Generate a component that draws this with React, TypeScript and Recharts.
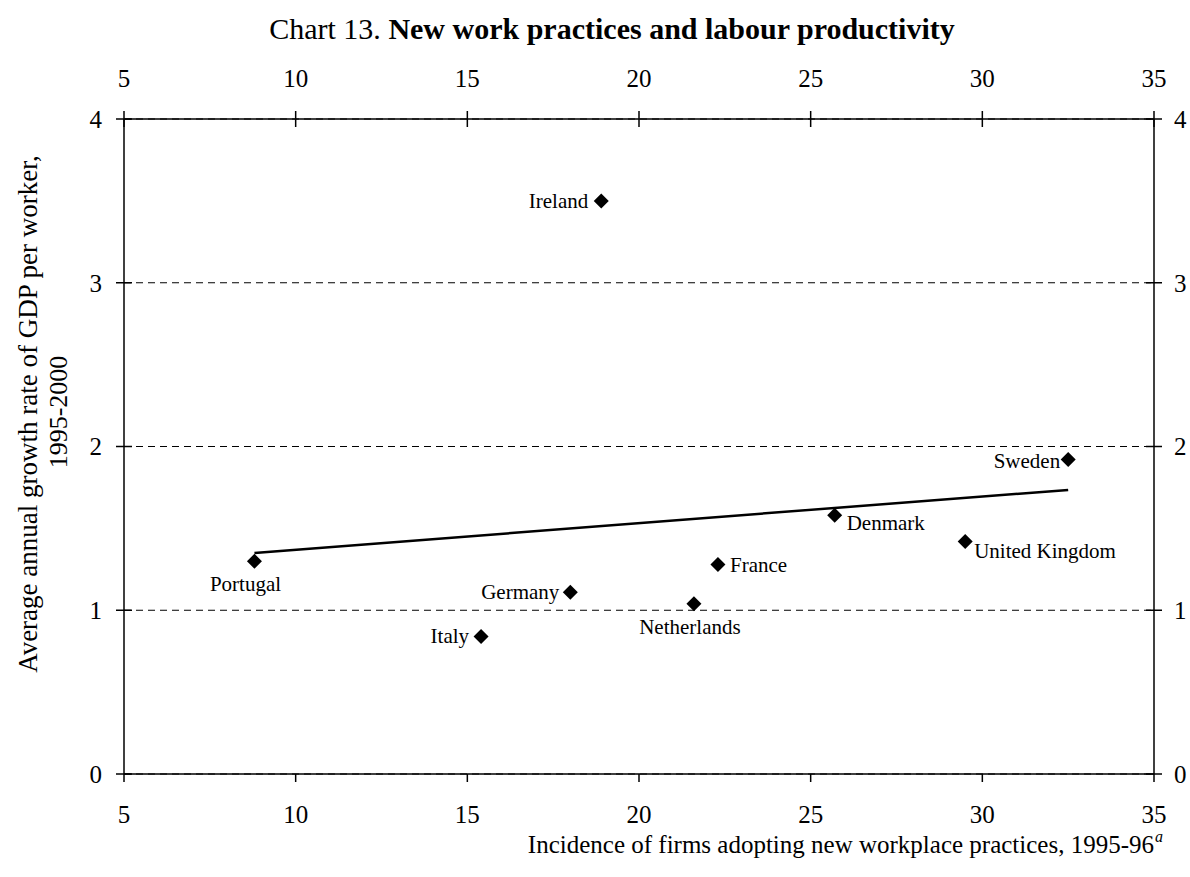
import {
    ScatterChart,
    Scatter,
    XAxis,
    YAxis,
    CartesianGrid,
    ReferenceLine,
    LabelList,
} from "recharts";

const countries = [
    "Portugal",
    "Ireland",
    "Italy",
    "Germany",
    "Netherlands",
    "France",
    "Denmark",
    "United Kingdom",
    "Sweden",
];
const incidence = [8.8, 18.9, 15.4, 18.0, 21.6, 22.3, 25.7, 29.5, 32.5];
const growth = [1.3, 3.5, 0.84, 1.11, 1.04, 1.28, 1.58, 1.42, 1.92];

const trendStart = { x: 8.8, y: 1.35 };
const trendEnd = { x: 32.5, y: 1.735 };

const xTicks = [5, 10, 15, 20, 25, 30, 35];
const yTicks = [0, 1, 2, 3, 4];

const points = countries.map((name, i) => ({
    name,
    x: incidence[i],
    y: growth[i],
}));

// where each country's label sits relative to its marker
const labelPos: Record<string, { dx: number; dy: number; anchor: string }> = {
    Portugal: { dx: -9, dy: 30, anchor: "middle" },
    Ireland: { dx: -13, dy: 7, anchor: "end" },
    Italy: { dx: -12, dy: 7, anchor: "end" },
    Germany: { dx: -11, dy: 7, anchor: "end" },
    Netherlands: { dx: -4, dy: 30, anchor: "middle" },
    France: { dx: 12, dy: 8, anchor: "start" },
    Denmark: { dx: 12, dy: 15, anchor: "start" },
    "United Kingdom": { dx: 9, dy: 17, anchor: "start" },
    Sweden: { dx: -8, dy: 8, anchor: "end" },
};

const FONT = "'Liberation Serif', 'Times New Roman', serif";

const Diamond = (props: any) => {
    const { cx, cy } = props;
    const r = 7.5;
    return (
        <polygon
            points={`${cx},${cy - r} ${cx + r},${cy} ${cx},${cy + r} ${cx - r},${cy}`}
            fill="#000"
        />
    );
};

const NoShape = () => <g />;

const renderLabel = (props: any) => {
    const { x, y, width, height, value } = props;
    const p = labelPos[value] || { dx: 10, dy: 7, anchor: "start" };
    const cx = x + (width || 0) / 2;
    const cy = y + (height || 0) / 2;
    return (
        <text
            x={cx + p.dx}
            y={cy + p.dy}
            textAnchor={p.anchor as any}
            fontSize={21}
            fontFamily={FONT}
            fill="#000"
        >
            {value}
        </text>
    );
};

const tickStyle = { fill: "#000", fontSize: 25, fontFamily: FONT };

export default function App() {
    return (
        <div
            style={{
                position: "absolute",
                left: 0,
                top: 0,
                width: 1190,
                height: 877,
                background: "#fff",
                fontFamily: FONT,
            }}
        >
            <ScatterChart
                width={1190}
                height={877}
                margin={{ top: 60, right: 6, bottom: 53, left: 84 }}
            >
                <CartesianGrid
                    vertical={false}
                    stroke="#000"
                    strokeDasharray="7 5"
                    xAxisId="bottom"
                    yAxisId="left"
                />
                <XAxis
                    xAxisId="bottom"
                    type="number"
                    dataKey="x"
                    domain={[5, 35]}
                    ticks={xTicks}
                    orientation="bottom"
                    height={50}
                    tick={tickStyle}
                    tickSize={8}
                    tickMargin={23}
                    stroke="#000"
                    strokeWidth={1.5}
                />
                {/* top, left and right ticks cross the axis line */}
                <XAxis
                    xAxisId="top"
                    type="number"
                    dataKey="x"
                    domain={[5, 35]}
                    ticks={xTicks}
                    orientation="top"
                    height={59}
                    tick={tickStyle}
                    tickSize={16}
                    tickMargin={16}
                    tickLine={{ transform: "translate(0,8)" }}
                    stroke="#000"
                    strokeWidth={1.5}
                />
                <YAxis
                    yAxisId="left"
                    type="number"
                    dataKey="y"
                    domain={[0, 4]}
                    ticks={yTicks}
                    width={40}
                    tick={tickStyle}
                    tickSize={16}
                    tickMargin={6}
                    tickLine={{ transform: "translate(8,0)" }}
                    stroke="#000"
                    strokeWidth={1.5}
                />
                <YAxis
                    yAxisId="right"
                    orientation="right"
                    type="number"
                    dataKey="y"
                    domain={[0, 4]}
                    ticks={yTicks}
                    width={30}
                    tick={tickStyle}
                    tickSize={16}
                    tickMargin={4}
                    tickLine={{ transform: "translate(-8,0)" }}
                    stroke="#000"
                    strokeWidth={1.5}
                />
                <ReferenceLine
                    xAxisId="bottom"
                    yAxisId="left"
                    segment={[trendStart, trendEnd]}
                    stroke="#000"
                    strokeWidth={2.5}
                />
                <Scatter
                    xAxisId="top"
                    yAxisId="right"
                    data={points}
                    shape={NoShape}
                    isAnimationActive={false}
                />
                <Scatter
                    xAxisId="bottom"
                    yAxisId="left"
                    data={points}
                    shape={Diamond}
                    isAnimationActive={false}
                >
                    <LabelList dataKey="name" content={renderLabel} />
                </Scatter>
            </ScatterChart>
            <svg
                width={1190}
                height={877}
                style={{ position: "absolute", left: 0, top: 0, pointerEvents: "none" }}
                fontFamily={FONT}
            >
                <text x={612} y={39} textAnchor="middle" fontSize={30} fill="#000">
                    Chart 13. <tspan fontWeight="bold">New work practices and labour productivity</tspan>
                </text>
                <text x={1154} y={853} textAnchor="end" fontSize={25} fill="#000">
                    Incidence of firms adopting new workplace practices, 1995-96
                </text>
                <text x={1155} y={842} fontSize={16} fontStyle="italic" fill="#000">
                    a
                </text>
                <text
                    transform="translate(37,414) rotate(-90)"
                    textAnchor="middle"
                    fontSize={27}
                    fill="#000"
                >
                    Average annual growth rate of GDP per worker,
                </text>
                <text
                    transform="translate(67,412) rotate(-90)"
                    textAnchor="middle"
                    fontSize={26}
                    fill="#000"
                >
                    1995-2000
                </text>
            </svg>
        </div>
    );
}
